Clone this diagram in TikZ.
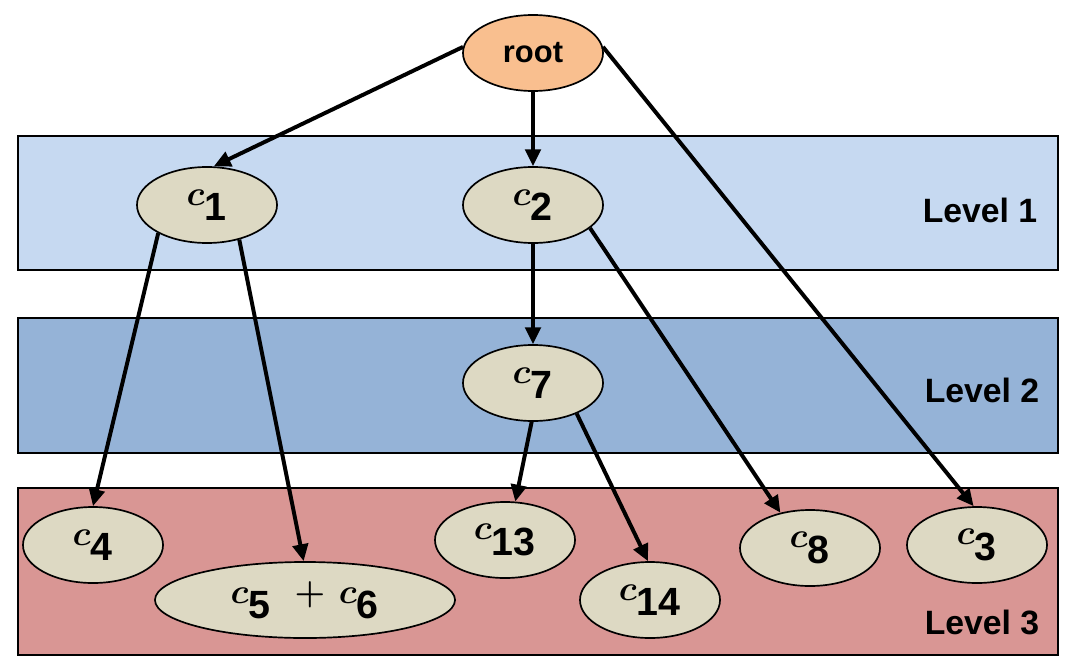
\documentclass[tikz,border=0pt]{standalone}
\usepackage{fontspec}
\usepackage{amsmath,bm}
\setmainfont{Liberation Sans}
\usetikzlibrary{shapes.geometric,arrows.meta}
\definecolor{nodefill}{HTML}{DDD9C3}
\definecolor{rootfill}{HTML}{F9BF8F}
\definecolor{lone}{HTML}{C6D9F1}
\definecolor{ltwo}{HTML}{95B3D7}
\definecolor{lthree}{HTML}{D99694}
\begin{document}
\begin{tikzpicture}[x=0.025cm,y=-0.025cm,
 nd/.style={ellipse,draw,line width=1.2pt,fill=nodefill,minimum width=3.5cm,minimum height=1.9cm,inner sep=0pt,font=\fontsize{40}{44}\selectfont},
 band/.style={draw,line width=1.2pt},
 lab/.style={font=\fontsize{24}{28}\selectfont\bfseries},
 ed/.style={line width=2.8pt,-{Triangle[length=12pt,width=11pt]}}]
\useasboundingbox (0,0) rectangle (1076,670);
\fill[white] (0,0) rectangle (1076,670);
\draw[band,fill=lone] (18,136) rectangle (1058,270);
\draw[band,fill=ltwo] (18,318) rectangle (1058,453);
\draw[band,fill=lthree] (18,488) rectangle (1058,655);
\node[lab] (l1) at (980,210) {Level 1};
\node[lab] (l2) at (982,390) {Level 2};
\node[lab] (l3) at (982,622) {Level 3};
\node[nd,fill=rootfill,font=\fontsize{22}{26}\selectfont\bfseries] (root) at (533,53) {root};
\newcommand{\cc}[1]{$\bm{c}_{\mathbf{#1}}$}
\node[nd] (c1) at (207,205) {\cc{1}};
\node[nd] (c2) at (533,205) {\cc{2}};
\node[nd] (c7) at (533,383) {\cc{7}};
\node[nd] (c4) at (93,545) {\cc{4}};
\node[nd,minimum width=7.5cm] (c56) at (305,600) {$\bm{c}_{\mathbf{5}}\ \bm{+}\,\bm{c}_{\mathbf{6}}$};
\node[nd] (c13) at (505,540) {\cc{13}};
\node[nd] (c14) at (650,600) {\cc{14}};
\node[nd] (c8) at (810,548) {\cc{8}};
\node[nd] (c3) at (977,545) {\cc{3}};
\draw[ed] (root.175) -- (c1.80);
\draw[ed] (root.south) -- (c2.north);
\draw[ed] (root.5) -- (c3.95);
\draw[ed] (c1.210) -- (c4.90);
\draw[ed] (c1.313) -- (c56.92);
\draw[ed] (c2.south) -- (c7.north);
\draw[ed] (c2.338) -- (c8.130);
\draw[ed] (c7.268) -- (c13.75);
\draw[ed] (c7.325) -- (c14.93);
\end{tikzpicture}
\end{document}
